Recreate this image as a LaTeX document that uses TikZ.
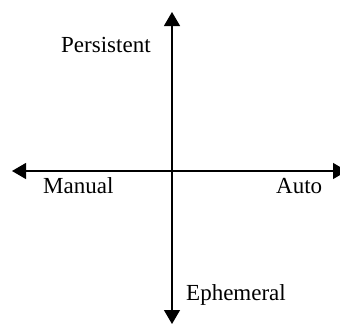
\documentclass[tikz,border=0pt]{standalone}
\usepackage{fontspec}
\setmainfont{Liberation Serif}
\usetikzlibrary{arrows.meta}
\begin{document}
\begin{tikzpicture}[x=1pt,y=-1pt,
  axis/.style={line width=1.2pt,draw=black,{Triangle[width=16pt,length=14pt]}-{Triangle[width=16pt,length=14pt]}},
  lbl/.style={inner sep=0pt,anchor=base west,font=\fontsize{23}{27}\selectfont}]
\useasboundingbox (0,0) rectangle (340,325);
\coordinate (top) at (172,12);
\coordinate (bottom) at (172,324);
\coordinate (left) at (12,171);
\coordinate (right) at (347,171);
\draw[axis] (top) -- (bottom);
\draw[axis] (left) -- (right);
\node[lbl] (persistent) at (61,52) {Persistent};
\node[lbl] (manual) at (43,193) {Manual};
\node[lbl] (auto) at (276,193) {Auto};
\node[lbl] (ephemeral) at (186,300) {Ephemeral};
\end{tikzpicture}
\end{document}
